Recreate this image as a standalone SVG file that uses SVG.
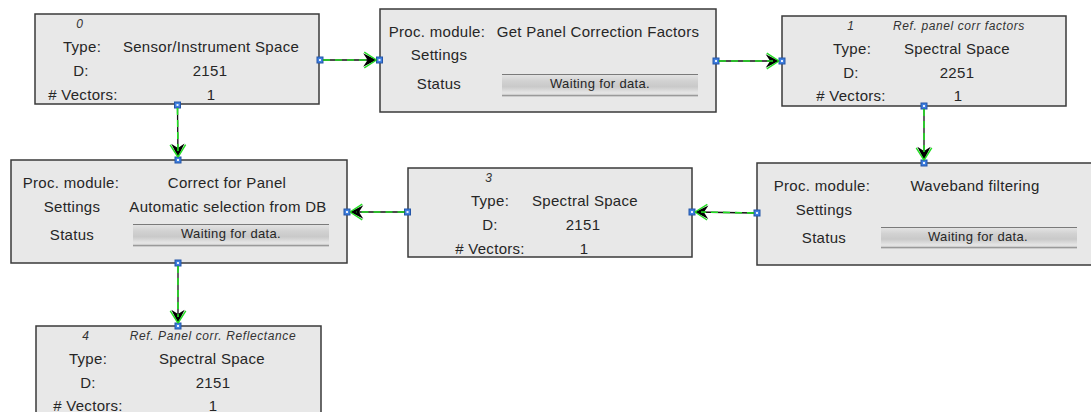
<svg xmlns="http://www.w3.org/2000/svg" width="1091" height="412" viewBox="0 0 1091 412">
<defs>
<style>
.box{fill:#e8e8e8;stroke:#3a3a3a;stroke-width:1.5}
.t{font-family:"Liberation Sans",Arial,sans-serif;font-size:15px;letter-spacing:0.3px;fill:#262626;text-anchor:middle}
.i{font-family:"Liberation Sans",Arial,sans-serif;font-size:12px;font-style:italic;letter-spacing:0.6px;fill:#333;text-anchor:middle}
.b{font-family:"Liberation Sans",Arial,sans-serif;font-size:13px;letter-spacing:0.35px;fill:#262626;text-anchor:middle}
.bar{fill:url(#barg)}
.bl{stroke:#7a7a7a;stroke-width:1.2}
.bl2{stroke:#9a9a9a;stroke-width:1.5}
.port{fill:#3f7fe0;stroke:#2456a8;stroke-width:1}
.pin{fill:#e8f0ff}
.cb{stroke:#111;stroke-width:1.3;fill:none}
.cg{stroke:#22e022;stroke-width:1.6;stroke-dasharray:7 5;fill:none}
</style>
<linearGradient id="barg" x1="0" y1="0" x2="0" y2="1">
<stop offset="0" stop-color="#e6e6e6"/>
<stop offset="0.3" stop-color="#d2d2d2"/>
<stop offset="0.55" stop-color="#c9c9c9"/>
<stop offset="0.8" stop-color="#e4e4e4"/>
<stop offset="1" stop-color="#dcdcdc"/>
</linearGradient>
<marker id="ah" markerUnits="userSpaceOnUse" markerWidth="20" markerHeight="20" viewBox="-14 -9 18 18" refX="0" refY="0" orient="auto" overflow="visible">
<path d="M0,0 L-12,-6 L-8,0 L-12,6 Z" fill="#000"/>
<path d="M0,0 L-11,-7 M0,0 L-11,7" stroke="#22dd22" stroke-width="1.3" fill="none"/>
</marker>
</defs>
<rect width="1091" height="412" fill="#fff"/>

<g id="node-0">
<rect class="box" x="35" y="14" width="284" height="90"/>
<text class="i" x="80" y="28">0</text>
<text class="t" x="82" y="52">Type:</text>
<text class="t" x="211" y="52">Sensor/Instrument Space</text>
<text class="t" x="81" y="76">D:</text>
<text class="t" x="210" y="76">2151</text>
<text class="t" x="83" y="100"># Vectors:</text>
<text class="t" x="211" y="100">1</text>
<rect class="port" x="317" y="57" width="6" height="6"/><rect class="pin" x="319" y="59" width="2" height="2"/>
<rect class="port" x="174.5" y="102" width="6" height="6"/><rect class="pin" x="176.5" y="104" width="2" height="2"/>
</g>

<g id="proc-get-panel">
<rect class="box" x="380" y="9" width="336" height="103"/>
<text class="t" x="437" y="37">Proc. module:</text>
<text class="t" x="598" y="37">Get Panel Correction Factors</text>
<text class="t" x="439" y="60">Settings</text>
<text class="t" x="439" y="89">Status</text>
<rect class="bar" x="502" y="74" width="196" height="23"/>
<line class="bl" x1="502" y1="74.5" x2="698" y2="74.5"/>
<line class="bl2" x1="502" y1="95.5" x2="698" y2="95.5"/>
<text class="b" x="600" y="88">Waiting for data.</text>
<rect class="port" x="376.5" y="57" width="6" height="6"/><rect class="pin" x="378.5" y="59" width="2" height="2"/>
<rect class="port" x="713" y="58" width="6" height="6"/><rect class="pin" x="715" y="60" width="2" height="2"/>
</g>

<g id="node-1">
<rect class="box" x="782" y="16" width="284" height="90"/>
<text class="i" x="851" y="30">1</text>
<text class="i" x="959" y="30">Ref. panel corr factors</text>
<text class="t" x="852" y="54">Type:</text>
<text class="t" x="957" y="54">Spectral Space</text>
<text class="t" x="851" y="78">D:</text>
<text class="t" x="957" y="78">2251</text>
<text class="t" x="851" y="101"># Vectors:</text>
<text class="t" x="958" y="101">1</text>
<rect class="port" x="779" y="58" width="6" height="6"/><rect class="pin" x="781" y="60" width="2" height="2"/>
<rect class="port" x="921" y="103" width="6" height="6"/><rect class="pin" x="923" y="105" width="2" height="2"/>
</g>

<g id="proc-correct">
<rect class="box" x="11" y="160" width="336" height="103"/>
<text class="t" x="71" y="188">Proc. module:</text>
<text class="t" x="227" y="188">Correct for Panel</text>
<text class="t" x="72" y="212">Settings</text>
<text class="t" x="228" y="212">Automatic selection from DB</text>
<text class="t" x="72" y="240">Status</text>
<rect class="bar" x="133" y="224" width="196" height="23"/>
<line class="bl" x1="133" y1="224.5" x2="329" y2="224.5"/>
<line class="bl2" x1="133" y1="245.5" x2="329" y2="245.5"/>
<text class="b" x="231" y="238">Waiting for data.</text>
<rect class="port" x="175" y="157" width="6" height="6"/><rect class="pin" x="177" y="159" width="2" height="2"/>
<rect class="port" x="344" y="209" width="6" height="6"/><rect class="pin" x="346" y="211" width="2" height="2"/>
<rect class="port" x="175" y="260" width="6" height="6"/><rect class="pin" x="177" y="262" width="2" height="2"/>
</g>

<g id="node-3">
<rect class="box" x="408" y="168" width="284" height="89"/>
<text class="i" x="489" y="182">3</text>
<text class="t" x="490" y="206">Type:</text>
<text class="t" x="585" y="206">Spectral Space</text>
<text class="t" x="490" y="230">D:</text>
<text class="t" x="583" y="230">2151</text>
<text class="t" x="490" y="254"># Vectors:</text>
<text class="t" x="584" y="254">1</text>
<rect class="port" x="404.5" y="209" width="6" height="6"/><rect class="pin" x="406.5" y="211" width="2" height="2"/>
<rect class="port" x="689" y="209" width="6" height="6"/><rect class="pin" x="691" y="211" width="2" height="2"/>
</g>

<g id="proc-waveband">
<rect class="box" x="757" y="163" width="340" height="102"/>
<text class="t" x="822" y="191">Proc. module:</text>
<text class="t" x="975" y="191">Waveband filtering</text>
<text class="t" x="824" y="215">Settings</text>
<text class="t" x="824" y="243">Status</text>
<rect class="bar" x="881" y="227" width="196" height="22"/>
<line class="bl" x1="881" y1="227.5" x2="1077" y2="227.5"/>
<line class="bl2" x1="881" y1="247.5" x2="1077" y2="247.5"/>
<text class="b" x="978" y="241">Waiting for data.</text>
<rect class="port" x="754" y="210" width="6" height="6"/><rect class="pin" x="756" y="212" width="2" height="2"/>
<rect class="port" x="921" y="160" width="6" height="6"/><rect class="pin" x="923" y="162" width="2" height="2"/>
</g>

<g id="node-4">
<rect class="box" x="36" y="326" width="285" height="100"/>
<text class="i" x="86" y="340">4</text>
<text class="i" x="213" y="340">Ref. Panel corr. Reflectance</text>
<text class="t" x="88" y="364">Type:</text>
<text class="t" x="212" y="364">Spectral Space</text>
<text class="t" x="88" y="388">D:</text>
<text class="t" x="213" y="388">2151</text>
<text class="t" x="88" y="411"># Vectors:</text>
<text class="t" x="213" y="411">1</text>
<rect class="port" x="175" y="323" width="6" height="6"/><rect class="pin" x="177" y="325" width="2" height="2"/>
</g>

<g id="connectors">
<path class="cb" d="M323,60 L376.5,60" marker-end="url(#ah)"/>
<path class="cg" d="M323,60 L370,60"/>
<path class="cb" d="M719,61 L779,61" marker-end="url(#ah)"/>
<path class="cg" d="M719,61 L773,61"/>
<path class="cb" d="M177.5,108 L178,157" marker-end="url(#ah)"/>
<path class="cg" d="M177.5,108 L178,151"/>
<path class="cb" d="M924,109 L924,160" marker-end="url(#ah)"/>
<path class="cg" d="M924,109 L924,154"/>
<path class="cb" d="M754,213 L695,212" marker-end="url(#ah)"/>
<path class="cg" d="M754,213 L701,212"/>
<path class="cb" d="M404.5,212 L350,212" marker-end="url(#ah)"/>
<path class="cg" d="M404.5,212 L356,212"/>
<path class="cb" d="M178,266 L178,323" marker-end="url(#ah)"/>
<path class="cg" d="M178,266 L178,317"/>
</g>
</svg>
